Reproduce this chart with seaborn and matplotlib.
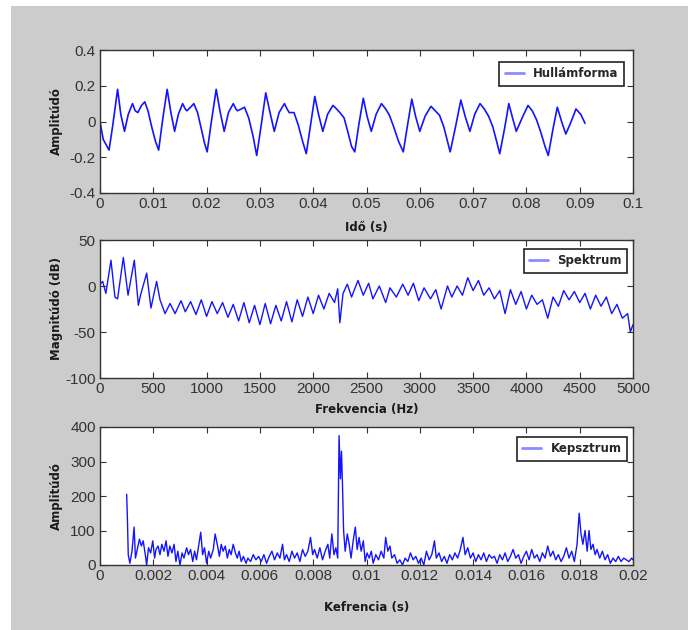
import numpy as np
import pandas as pd
import seaborn as sns
import matplotlib
matplotlib.use("Agg")
import matplotlib.pyplot as plt
from matplotlib.patches import Rectangle

# ---------------- data ----------------
wave_t = [0.0000, 0.0006, 0.0017, 0.0024, 0.0033, 0.0039, 0.0046, 0.0053, 0.0061, 0.0066, 0.0071, 0.0078,
          0.0084, 0.0090, 0.0097, 0.0104, 0.0110, 0.0118, 0.0126, 0.0133, 0.0140, 0.0147, 0.0155, 0.0160,
          0.0163, 0.0170, 0.0176, 0.0183, 0.0190, 0.0196, 0.0201, 0.0209, 0.0218, 0.0225, 0.0233, 0.0241,
          0.0250, 0.0255, 0.0258, 0.0265, 0.0271, 0.0279, 0.0287, 0.0294, 0.0302, 0.0311, 0.0319, 0.0327,
          0.0336, 0.0346, 0.0351, 0.0355, 0.0364, 0.0372, 0.0380, 0.0387, 0.0395, 0.0403, 0.0410, 0.0418,
          0.0427, 0.0437, 0.0444, 0.0450, 0.0458, 0.0466, 0.0472, 0.0478, 0.0486, 0.0494, 0.0501, 0.0509,
          0.0518, 0.0528, 0.0536, 0.0543, 0.0551, 0.0560, 0.0569, 0.0577, 0.0585, 0.0592, 0.0600, 0.0610,
          0.0621, 0.0629, 0.0637, 0.0645, 0.0651, 0.0657, 0.0667, 0.0677, 0.0685, 0.0694, 0.0703, 0.0713,
          0.0721, 0.0729, 0.0737, 0.0744, 0.0750, 0.0759, 0.0767, 0.0774, 0.0781, 0.0792, 0.0803, 0.0811,
          0.0819, 0.0827, 0.0835, 0.0841, 0.0850, 0.0858, 0.0866, 0.0874, 0.0884, 0.0893, 0.0902, 0.0910]
wave_amp = [0.00, -0.10, -0.16, -0.02, 0.18, 0.04, -0.055, 0.04, 0.10, 0.06, 0.05, 0.09,
            0.11, 0.06, -0.03, -0.11, -0.16, 0.02, 0.18, 0.05, -0.055, 0.04, 0.10, 0.07,
            0.06, 0.08, 0.10, 0.05, -0.04, -0.12, -0.17, 0.00, 0.18, 0.06, -0.055, 0.05,
            0.10, 0.07, 0.06, 0.07, 0.08, 0.02, -0.08, -0.19, -0.03, 0.16, 0.05, -0.055,
            0.05, 0.10, 0.07, 0.05, 0.05, -0.02, -0.11, -0.18, -0.02, 0.14, 0.04, -0.055,
            0.04, 0.09, 0.07, 0.05, 0.02, -0.07, -0.14, -0.17, -0.01, 0.13, 0.03, -0.055,
            0.04, 0.10, 0.07, 0.035, -0.03, -0.11, -0.17, -0.02, 0.125, 0.03, -0.055, 0.03,
            0.085, 0.06, 0.035, -0.03, -0.10, -0.17, -0.03, 0.12, 0.03, -0.055, 0.04, 0.10,
            0.07, 0.03, -0.03, -0.11, -0.18, -0.04, 0.10, 0.02, -0.055, 0.02, 0.09, 0.06,
            0.01, -0.06, -0.14, -0.19, -0.04, 0.08, 0.00, -0.07, 0.00, 0.07, 0.04, -0.01]

spec_f = [0, 25, 55, 103, 140, 165, 219, 263, 322, 360, 380, 438, 478, 531, 563, 610, 657, 704, 760, 800,
          850, 900, 950, 1000, 1050, 1100, 1150, 1200, 1250, 1300, 1350, 1400, 1450, 1500, 1550, 1600,
          1650, 1700, 1750, 1800, 1850, 1900, 1950, 2000, 2050, 2100, 2150, 2200, 2230, 2250, 2280, 2320,
          2360, 2420, 2470, 2520, 2560, 2620, 2680, 2720, 2780, 2840, 2890, 2940, 2990, 3040, 3100, 3150,
          3200, 3260, 3300, 3350, 3400, 3450, 3500, 3550, 3600, 3650, 3700, 3750, 3800, 3850, 3900, 3950,
          4000, 4050, 4100, 4150, 4200, 4250, 4300, 4350, 4400, 4450, 4500, 4550, 4600, 4650, 4700, 4750,
          4800, 4850, 4900, 4950, 4975, 5000]
spec_db = [2, 5, -8, 28, -12, -14, 31, -10, 28, -21, -10, 14, -24, 5, -15, -30, -19, -30, -16, -28,
           -17, -31, -15, -33, -17, -30, -18, -34, -20, -38, -18, -40, -21, -42, -19, -41,
           -21, -38, -17, -39, -15, -33, -12, -30, -10, -25, -8, -18, -3, -40, -8, 2,
           -12, 6, -10, 3, -14, 0, -18, -2, -12, 2, -10, 3, -16, -2, -14, -4,
           -25, 0, -12, 0, -10, 9, -5, 6, -10, -2, -14, -5, -30, -4, -20, -6,
           -25, -10, -20, -15, -35, -12, -22, -5, -15, -6, -18, -8, -25, -10, -22, -12,
           -30, -20, -35, -30, -50, -42]

ceps_ms = [1.00, 1.03, 1.06, 1.12, 1.20, 1.28, 1.33, 1.40, 1.48, 1.55, 1.62, 1.70, 1.75, 1.82, 1.90, 1.98,
           2.05, 2.10, 2.18, 2.25, 2.32, 2.40, 2.48, 2.55, 2.62, 2.70, 2.78, 2.85, 2.92, 3.00, 3.08, 3.15,
           3.25, 3.32, 3.40, 3.48, 3.55, 3.62, 3.70, 3.78, 3.85, 3.92, 4.00, 4.08, 4.15, 4.25, 4.32, 4.40,
           4.48, 4.55, 4.62, 4.70, 4.78, 4.85, 4.92, 5.00, 5.08, 5.15, 5.22, 5.30, 5.38, 5.48, 5.55, 5.65,
           5.75, 5.85, 5.95, 6.05, 6.15, 6.25, 6.35, 6.45, 6.55, 6.65, 6.75, 6.85, 6.92, 7.00, 7.10, 7.20,
           7.30, 7.40, 7.50, 7.60, 7.70, 7.80, 7.90, 7.98, 8.05, 8.15, 8.25, 8.35, 8.45, 8.55, 8.62, 8.70,
           8.78, 8.85, 8.92, 8.97, 9.02, 9.06, 9.10, 9.14, 9.20, 9.28, 9.35, 9.42, 9.50, 9.58, 9.65, 9.72,
           9.80, 9.88, 9.95, 10.02, 10.10, 10.18, 10.25, 10.35, 10.45, 10.55, 10.65, 10.72, 10.80, 10.88,
           10.95, 11.05, 11.15, 11.25, 11.35, 11.45, 11.55, 11.65, 11.75, 11.85, 11.95, 12.05, 12.15, 12.25,
           12.35, 12.45, 12.55, 12.62, 12.72, 12.82, 12.92, 13.02, 13.12, 13.22, 13.32, 13.42, 13.52, 13.62,
           13.70, 13.80, 13.90, 14.00, 14.10, 14.20, 14.30, 14.40, 14.50, 14.60, 14.70, 14.80, 14.90, 15.00,
           15.10, 15.20, 15.30, 15.40, 15.50, 15.60, 15.70, 15.80, 15.90, 16.00, 16.10, 16.20, 16.30, 16.40,
           16.50, 16.60, 16.70, 16.80, 16.90, 17.00, 17.10, 17.20, 17.30, 17.40, 17.50, 17.60, 17.70, 17.80,
           17.90, 17.98, 18.05, 18.12, 18.20, 18.28, 18.35, 18.42, 18.50, 18.58, 18.65, 18.75, 18.85, 18.95,
           19.05, 19.15, 19.25, 19.35, 19.45, 19.55, 19.65, 19.75, 19.85, 19.95, 20.00]
ceps_amp = [205, 130, 30, 5, 40, 110, 20, 45, 75, 55, 70, 30, 0, 50, 35, 70,
            20, 45, 55, 30, 60, 40, 70, 25, 55, 35, 60, 10, 40, 0, 35, 20,
            50, 30, 45, 10, 40, 15, 55, 95, 30, 50, 5, 40, 20, 45, 90, 60,
            25, 60, 40, 55, 20, 45, 30, 60, 35, 20, 40, 10, 25, 5, 20, 10,
            30, 15, 25, 10, 30, 5, 25, 40, 15, 35, 20, 60, 15, 30, 10, 40,
            20, 35, 10, 45, 25, 40, 80, 30, 45, 20, 50, 15, 40, 60, 20, 90,
            30, 50, 20, 375, 250, 330, 230, 100, 40, 90, 60, 20, 70, 110, 45, 80,
            40, 70, 10, 35, 20, 40, 5, 30, 15, 40, 20, 80, 40, 55,
            20, 30, 5, 15, 0, 20, 10, 35, 15, 25, 5, 20, 0, 40,
            15, 30, 70, 20, 35, 10, 25, 5, 30, 15, 35, 20, 45, 80,
            30, 50, 20, 35, 10, 30, 15, 35, 10, 30, 20, 25, 5, 30,
            15, 35, 10, 25, 45, 20, 30, 5, 25, 40, 15, 45, 20, 30,
            10, 35, 20, 55, 25, 40, 15, 30, 10, 25, 50, 20, 40, 10,
            60, 150, 90, 60, 100, 40, 100, 45, 60, 30, 45, 20, 40, 15,
            30, 5, 20, 10, 25, 10, 20, 15, 10, 20, 15]

wave_xticks = [0, 0.01, 0.02, 0.03, 0.04, 0.05, 0.06, 0.07, 0.08, 0.09, 0.1]
wave_xlabels = ["0", "0.01", "0.02", "0.03", "0.04", "0.05", "0.06", "0.07", "0.08", "0.09", "0.1"]
wave_yticks = [-0.4, -0.2, 0, 0.2, 0.4]
wave_ylabels = ["-0.4", "-0.2", "0", "0.2", "0.4"]
spec_xticks = [0, 500, 1000, 1500, 2000, 2500, 3000, 3500, 4000, 4500, 5000]
spec_yticks = [-100, -50, 0, 50]
ceps_xticks = [0, 0.002, 0.004, 0.006, 0.008, 0.01, 0.012, 0.014, 0.016, 0.018, 0.02]
ceps_xlabels = ["0", "0.002", "0.004", "0.006", "0.008", "0.01", "0.012", "0.014", "0.016", "0.018", "0.02"]
ceps_yticks = [0, 100, 200, 300, 400]

# ---------------- style ----------------
sns.set_style("ticks")
plt.rcParams["font.family"] = ["DejaVu Sans"]
TICKFONT = ["Liberation Sans Narrow", "Liberation Sans", "DejaVu Sans"]
LINE = "#1414ff"
LEG = "#8c8cff"

W, H = 688, 630
fig = plt.figure(figsize=(W / 100, H / 100), dpi=100)
fig.patch.set_facecolor("white")
fig.patches.append(Rectangle((11 / W, 0), 1 - 11 / W, 1 - 6 / H, transform=fig.transFigure,
                             facecolor="#cccccc", edgecolor="none", zorder=-10))

def pos(top, bottom, left=100, right=633):
    return [left / W, 1 - bottom / H, (right - left) / W, (bottom - top) / H]

ax1 = fig.add_axes(pos(50, 193))
ax2 = fig.add_axes(pos(240, 378))
ax3 = fig.add_axes(pos(427, 565))

df_w = pd.DataFrame({"t": wave_t, "a": wave_amp})
df_s = pd.DataFrame({"f": spec_f, "db": spec_db})
df_c = pd.DataFrame({"t": np.array(ceps_ms) / 1000.0, "a": ceps_amp})

sns.lineplot(data=df_w, x="t", y="a", ax=ax1, color=LINE, lw=1.2, estimator=None, label="Hullámforma")
sns.lineplot(data=df_s, x="f", y="db", ax=ax2, color=LINE, lw=1.0, estimator=None, label="Spektrum")
sns.lineplot(data=df_c, x="t", y="a", ax=ax3, color=LINE, lw=1.0, estimator=None, label="Kepsztrum")

def style(ax, xt, xl, yt, yl, xlim, ylim, xlabel, ylabel, xlab_off, leg_anchor):
    ax.set_facecolor("white")
    ax.set_xlim(*xlim)
    ax.set_ylim(*ylim)
    ax.set_xticks(xt)
    ax.set_xticklabels(xl, family=TICKFONT, fontsize=11, color="#333333")
    ax.set_yticks(yt)
    ax.set_yticklabels(yl, family=TICKFONT, fontsize=11, color="#333333")
    ax.tick_params(direction="in", top=True, right=True, length=4, width=0.8, color="#333333", pad=3)
    for s in ax.spines.values():
        s.set_visible(True)
        s.set_color("#333333")
        s.set_linewidth(1.0)
    ax.set_xlabel(xlabel, fontsize=8.5, fontweight="bold", color="#1a1a1a")
    ax.xaxis.set_label_coords(0.5, xlab_off)
    ax.xaxis.label.set_va("center")
    ax.set_ylabel(ylabel, fontsize=8.5, fontweight="bold", color="#1a1a1a")
    ax.yaxis.set_label_coords(-0.081, 0.5)
    ax.yaxis.label.set_va("center")
    leg = ax.legend(loc="upper right", bbox_to_anchor=leg_anchor, borderaxespad=0, fancybox=False,
                    frameon=True, handlelength=1.6, handletextpad=0.8, borderpad=0.45,
                    prop={"weight": "bold", "size": 8.5})
    fr = leg.get_frame()
    fr.set_edgecolor("#222222")
    fr.set_linewidth(1.2)
    fr.set_alpha(1)
    for h in leg.get_lines():
        h.set_color(LEG)
        h.set_linewidth(2.0)

style(ax1, wave_xticks, wave_xlabels, wave_yticks, wave_ylabels, (0, 0.1), (-0.4, 0.4),
      "Idő (s)", "Amplitúdó", -34 / 143, (0.983, 0.916))
style(ax2, spec_xticks, [str(v) for v in spec_xticks], spec_yticks, [str(v) for v in spec_yticks],
      (0, 5000), (-100, 50), "Frekvencia (Hz)", "Magnitúdó (dB)", -32 / 138, (0.989, 0.935))
style(ax3, ceps_xticks, ceps_xlabels, ceps_yticks, [str(v) for v in ceps_yticks], (0, 0.02), (0, 400),
      "Kefrencia (s)", "Amplitúdó", -43 / 138, (0.989, 0.928))

fig.savefig("out.png", dpi=100)
